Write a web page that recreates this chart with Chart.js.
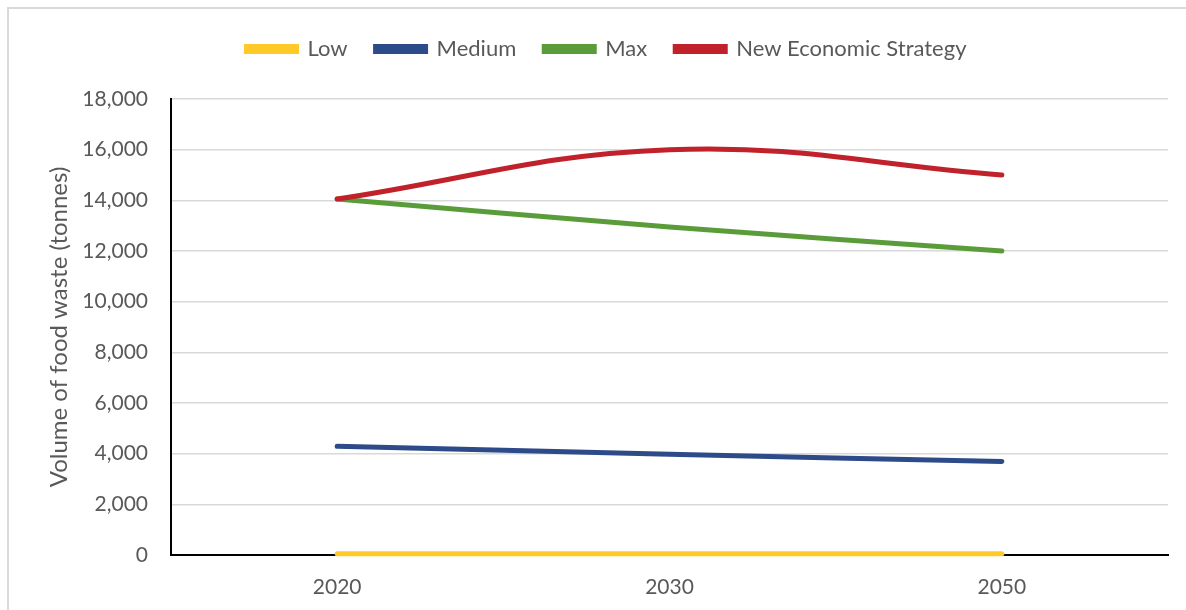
<!DOCTYPE html>
<html>
<head>
<meta charset="utf-8">
<script src="https://cdn.jsdelivr.net/npm/chart.js@4.4.1/dist/chart.umd.min.js"></script>
<style>
 html, body { margin: 0; padding: 0; background: #fff; overflow: hidden; }
 #wrap { position: relative; width: 1186px; height: 610px; }
 #frame { position: absolute; left: 7px; top: 7px; width: 1220px; height: 640px; border: 2px solid #d9d9d9; }
 #chart { position: absolute; left: 0; top: 0; }
</style>
</head>
<body>
<div id="wrap">
 <div id="frame"></div>
 <canvas id="chart" width="1186" height="610"></canvas>
</div>
<script>
var years = ["2020", "2030", "2050"];
var lowValues = [50, 50, 50];
var mediumValues = [4290, 3980, 3690];
var maxValues = [14050, 12950, 12000];
var nesValues = [14050, 16000, 15000];

var seriesNames = ["Low", "Medium", "Max", "New Economic Strategy"];
var seriesColors = ["#ffc927", "#2e4b89", "#5b9c3a", "#c0212a"];

var textColor = "#595959";
var fontName = "Lato, 'Open Sans', sans-serif";

function makeSet(i, values) {
 return {
  label: seriesNames[i],
  data: values,
  borderColor: seriesColors[i],
  backgroundColor: seriesColors[i],
  borderWidth: 5,
  borderCapStyle: "round",
  pointRadius: 0,
  pointHoverRadius: 0,
  tension: 0.4,
  clip: false,
  order: i == 3 ? -1 : 1,
 };
}

// extra room under the legend, like the gap in the original
var legendGap = {
 id: "legendGap",
 beforeLayout: function (chart) {
  var legend = chart.legend;
  if (legend && !legend._gapPatched) {
   var fit = legend.fit;
   legend.fit = function () {
    fit.call(this);
    this.height += 29;
   };
   legend._gapPatched = true;
  }
 },
};

new Chart(document.getElementById("chart"), {
 type: "line",
 data: {
  labels: years,
  datasets: [
   makeSet(0, lowValues),
   makeSet(1, mediumValues),
   makeSet(2, maxValues),
   makeSet(3, nesValues),
  ],
 },
 plugins: [legendGap],
 options: {
  responsive: false,
  animation: false,
  layout: {
   padding: { top: 10, left: 45, right: 18, bottom: 0 },
  },
  plugins: {
   tooltip: { enabled: false },
   legend: {
    position: "top",
    labels: {
     boxWidth: 50,
     boxHeight: 5,
     padding: 28,
     color: textColor,
     font: { family: fontName, size: 22 },
     sort: function (a, b) {
      return a.datasetIndex - b.datasetIndex;
     },
    },
   },
  },
  scales: {
   x: {
    offset: true,
    grid: { display: false },
    border: { color: "#000", width: 2 },
    ticks: {
     color: textColor,
     padding: 12,
     font: { family: fontName, size: 21 },
    },
    afterFit: function (scale) {
     scale.height = 55;
    },
   },
   y: {
    min: 0,
    max: 18000,
    ticks: {
     stepSize: 2000,
     color: textColor,
     padding: 23,
     font: { family: fontName, size: 21 },
     callback: function (v) {
      return v.toLocaleString("en-US");
     },
    },
    grid: { color: "#d9d9d9", lineWidth: 1.5, drawTicks: false },
    border: { color: "#000", width: 2 },
    title: {
     display: true,
     text: "Volume of food waste (tonnes)",
     color: textColor,
     padding: 0,
     font: { family: fontName, size: 24 },
    },
    afterFit: function (scale) {
     scale.width = 126;
    },
   },
  },
 },
});
</script>
</body>
</html>
